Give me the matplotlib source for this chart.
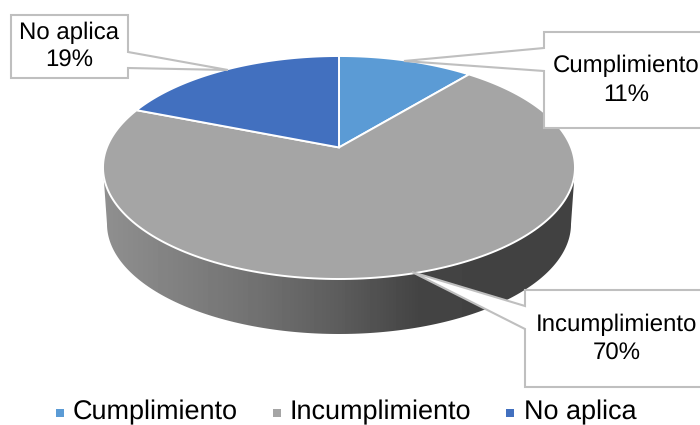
import matplotlib
matplotlib.use("Agg")
import matplotlib.pyplot as plt
from matplotlib.patches import Polygon, Rectangle
import numpy as np

labels = ["Cumplimiento", "Incumplimiento", "No aplica"]
values = [11, 70, 19]
colors = ["#5B9BD5", "#A5A5A5", "#4270BF"]

plt.rcParams["font.family"] = ["Liberation Sans", "DejaVu Sans"]
plt.rcParams["text.hinting"] = "no_hinting"
plt.rcParams["text.hinting_factor"] = 1

# the pie is a tilted disc: ellipse in pixels, apex pushed up by perspective
cx, cy, rx, ry = 339, 167.5, 236, 111.5
k = 0.18


def project(theta, r=1.0):
    u = r * np.sin(theta)
    v = r * np.cos(theta)
    d = 1 + k * v
    x = u * np.sqrt(1 - k * k) / d
    y = (v + k) / d
    return cx + rx * x, cy - ry * y


fig = plt.figure(figsize=(7, 4.25), dpi=100)
ax = fig.add_axes([0, 0, 1, 1])

# side wall
t = np.linspace(np.pi, 0, 200)
top_x = cx + rx * np.cos(t)
top_y = cy + ry * np.sin(t)
bot_x = cx + 232 * np.cos(t)
bot_y = 224 + 110 * np.sin(t)
wall = np.column_stack([np.r_[top_x, bot_x[::-1]], np.r_[top_y, bot_y[::-1]]])
wall_patch = Polygon(wall, closed=True, fc="none", ec="none")
ax.add_patch(wall_patch)
gx = np.arange(100, 580)
gray = np.interp(gx, [100, 170, 260, 340, 420, 580], [0x90, 0x82, 0x70, 0x5c, 0x43, 0x42]) / 255
img = ax.imshow(gray[None, :], extent=(100, 580, 340, 170), cmap="gray", vmin=0, vmax=1,
                aspect="auto", zorder=1)
img.set_clip_path(wall_patch)
ax.set_xlim(0, 700)
ax.set_ylim(425, 0)
ax.axis("off")

# top slices
fracs = np.array(values) / sum(values)
edges = np.r_[0, np.cumsum(fracs)] * 2 * np.pi
ax0, ay0 = project(0, 0)
for i in range(len(values)):
    th = np.linspace(edges[i], edges[i + 1], 200)
    x, y = project(th)
    pts = np.column_stack([np.r_[ax0, x], np.r_[ay0, y]])
    ax.add_patch(Polygon(pts, closed=True, fc=colors[i], ec="white", lw=1.4, zorder=2))

# callouts
callouts = [
    (2, (11, 15, 128, 78), [(128, 52), (228, 70), (128, 68)], 69.5, [33, 61]),
    (0, (544, 32, 720, 128), [(544, 48), (404, 61), (544, 71)], 626.5, [66, 95]),
    (1, (525, 290, 720, 387), [(525, 306), (412, 272), (525, 329)], 616.5, [325, 354]),
]
for idx, (x0, y0, x1, y1), tail, tx, tys in callouts:
    if tail[1][0] > x1:
        pts = [(x0, y0), (x1, y0), tail[0], tail[1], tail[2], (x1, y1), (x0, y1)]
    else:
        pts = [(x0, y0), (x1, y0), (x1, y1), (x0, y1), tail[2], tail[1], tail[0]]
    ax.add_patch(Polygon(pts, closed=True, fc="white", ec="#BFBFBF", lw=1.5, zorder=3))
    ax.text(tx, tys[0], labels[idx], fontsize=17, ha="center", va="center", color="black", zorder=4)
    ax.text(tx, tys[1], f"{values[idx]}%", fontsize=17, ha="center", va="center", color="black", zorder=4)

# legend
leg_sq = [60, 277, 510]
leg_tx = [73, 290, 524]
for i in range(len(labels)):
    ax.add_patch(Rectangle((leg_sq[i] - 4, 409), 8, 8, fc=colors[i], ec="none", zorder=3))
    ax.text(leg_tx[i], 419, labels[i], fontsize=19.3, ha="left", va="baseline", color="black")

fig.savefig("out.png", dpi=100)
